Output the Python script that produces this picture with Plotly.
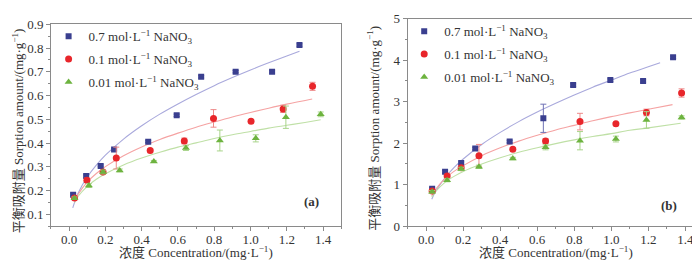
import plotly.graph_objects as go

# ---------------- data: panel (a) ----------------
a_x_blue = [0.022, 0.094, 0.174, 0.248, 0.436, 0.593, 0.728, 0.918, 1.119, 1.27]
a_y_blue = [0.182, 0.261, 0.304, 0.373, 0.406, 0.517, 0.679, 0.701, 0.700, 0.813]
a_e_blue = [0.004, 0.005, 0.004, 0.005, 0.004, 0.005, 0.005, 0.005, 0.005, 0.005]

a_x_red = [0.03, 0.098, 0.187, 0.26, 0.447, 0.635, 0.796, 1.003, 1.18, 1.342]
a_y_red = [0.169, 0.244, 0.278, 0.337, 0.369, 0.409, 0.504, 0.492, 0.544, 0.639]
a_e_red = [0.005, 0.008, 0.008, 0.046, 0.006, 0.012, 0.037, 0.006, 0.015, 0.017]

a_x_green = [0.03, 0.109, 0.187, 0.279, 0.467, 0.644, 0.831, 1.029, 1.195, 1.387]
a_y_green = [0.168, 0.221, 0.278, 0.285, 0.323, 0.379, 0.411, 0.420, 0.509, 0.521]
a_e_green = [0.005, 0.008, 0.008, 0.006, 0.004, 0.010, 0.044, 0.015, 0.047, 0.010]

a_fx_blue = [0.02, 0.05, 0.1, 0.15, 0.2, 0.3, 0.4, 0.5, 0.6, 0.7, 0.8, 0.9, 1.0, 1.1, 1.2, 1.27]
a_fy_blue = [0.127, 0.19, 0.257, 0.307, 0.349, 0.417, 0.473, 0.522, 0.565, 0.605, 0.642, 0.676, 0.708, 0.738, 0.767, 0.787]
a_fx_red = [0.03, 0.05, 0.1, 0.15, 0.2, 0.3, 0.4, 0.5, 0.6, 0.7, 0.8, 0.9, 1.0, 1.1, 1.2, 1.34]
a_fy_red = [0.155, 0.185, 0.236, 0.272, 0.301, 0.347, 0.384, 0.415, 0.442, 0.467, 0.489, 0.510, 0.529, 0.547, 0.564, 0.586]
a_fx_green = [0.03, 0.05, 0.1, 0.15, 0.2, 0.3, 0.4, 0.5, 0.6, 0.7, 0.8, 0.9, 1.0, 1.1, 1.2, 1.3, 1.387]
a_fy_green = [0.150, 0.176, 0.218, 0.248, 0.271, 0.308, 0.337, 0.361, 0.383, 0.401, 0.419, 0.435, 0.449, 0.463, 0.475, 0.487, 0.498]

# ---------------- data: panel (b) ----------------
b_x_blue = [0.032, 0.102, 0.189, 0.265, 0.451, 0.633, 0.794, 0.995, 1.172, 1.334]
b_y_blue = [0.90, 1.31, 1.52, 1.87, 2.04, 2.60, 3.40, 3.52, 3.50, 4.07]
b_e_blue = [0.03, 0.03, 0.03, 0.03, 0.03, 0.34, 0.03, 0.03, 0.03, 0.03]

b_x_red = [0.032, 0.113, 0.189, 0.285, 0.468, 0.645, 0.831, 1.025, 1.19, 1.38]
b_y_red = [0.85, 1.21, 1.41, 1.70, 1.855, 2.05, 2.52, 2.47, 2.74, 3.21]
b_e_red = [0.03, 0.04, 0.04, 0.27, 0.03, 0.06, 0.20, 0.03, 0.08, 0.10]

b_x_green = [0.032, 0.113, 0.189, 0.285, 0.468, 0.645, 0.831, 1.025, 1.19, 1.38]
b_y_green = [0.83, 1.11, 1.38, 1.43, 1.63, 1.90, 2.06, 2.10, 2.56, 2.62]
b_e_green = [0.03, 0.04, 0.04, 0.04, 0.03, 0.06, 0.22, 0.07, 0.20, 0.04]

b_fx_blue = [0.03, 0.05, 0.1, 0.15, 0.2, 0.3, 0.4, 0.5, 0.6, 0.7, 0.8, 0.9, 1.0, 1.1, 1.2, 1.264]
b_fy_blue = [0.65, 0.83, 1.16, 1.41, 1.62, 1.97, 2.26, 2.52, 2.75, 2.96, 3.16, 3.35, 3.52, 3.69, 3.84, 3.94]
b_fx_red = [0.03, 0.05, 0.1, 0.15, 0.2, 0.3, 0.4, 0.5, 0.6, 0.7, 0.8, 0.9, 1.0, 1.1, 1.2, 1.331]
b_fy_red = [0.73, 0.88, 1.14, 1.32, 1.46, 1.70, 1.89, 2.05, 2.19, 2.32, 2.43, 2.54, 2.64, 2.73, 2.82, 2.93]
b_fx_green = [0.03, 0.05, 0.1, 0.15, 0.2, 0.3, 0.4, 0.5, 0.6, 0.7, 0.8, 0.9, 1.0, 1.1, 1.2, 1.375]
b_fy_green = [0.70, 0.83, 1.05, 1.20, 1.32, 1.50, 1.65, 1.78, 1.89, 1.99, 2.08, 2.16, 2.23, 2.31, 2.37, 2.48]

series_names = ["0.7 mol·L<sup>−1</sup> NaNO<sub>3</sub>",
                "0.1 mol·L<sup>−1</sup> NaNO<sub>3</sub>",
                "0.01 mol·L<sup>−1</sup> NaNO<sub>3</sub>"]
x_ticks = [0.0, 0.2, 0.4, 0.6, 0.8, 1.0, 1.2, 1.4]
x_tick_text = ["0.0", "0.2", "0.4", "0.6", "0.8", "1.0", "1.2", "1.4"]
a_y_ticks = [0.1, 0.2, 0.3, 0.4, 0.5, 0.6, 0.7, 0.8, 0.9]
b_y_ticks = [0, 1, 2, 3, 4, 5]

# ---------------- styles ----------------
COL_PT = ["#3a3f8f", "#e8262b", "#6db33f"]
COL_LN = ["#a9a9dc", "#f5a3a3", "#bfe0a6"]
COL_EB = ["#6f73b5", "#ee8a8a", "#a8d48a"]
SYMS = ["square", "circle", "triangle-up"]
SIZES = [6, 7, 7]
FONT = "Liberation Serif, Times New Roman, Noto Sans CJK SC, serif"
TXT = "#333333"

fig = go.Figure()

panels = [
    dict(xa="x", ya="y", legend="legend",
         pts=[(a_x_blue, a_y_blue, a_e_blue), (a_x_red, a_y_red, a_e_red), (a_x_green, a_y_green, a_e_green)],
         fits=[(a_fx_blue, a_fy_blue), (a_fx_red, a_fy_red), (a_fx_green, a_fy_green)]),
    dict(xa="x2", ya="y2", legend="legend2",
         pts=[(b_x_blue, b_y_blue, b_e_blue), (b_x_red, b_y_red, b_e_red), (b_x_green, b_y_green, b_e_green)],
         fits=[(b_fx_blue, b_fy_blue), (b_fx_red, b_fy_red), (b_fx_green, b_fy_green)]),
]

for p in panels:
    for i, (fx, fy) in enumerate(p["fits"]):
        fig.add_trace(go.Scatter(x=fx, y=fy, mode="lines", line=dict(color=COL_LN[i], width=1.1, shape="spline"),
                                 xaxis=p["xa"], yaxis=p["ya"], showlegend=False, hoverinfo="skip"))
    for i, (x, y, e) in enumerate(p["pts"]):
        fig.add_trace(go.Scatter(
            x=x, y=y, mode="markers", name=series_names[i],
            marker=dict(symbol=SYMS[i], size=SIZES[i], color=COL_PT[i]),
            error_y=dict(type="data", array=e, visible=True, color=COL_EB[i], thickness=1, width=3),
            xaxis=p["xa"], yaxis=p["ya"], legend=p["legend"], legendgroup=p["legend"] + str(i)))

axis_common = dict(showline=True, linecolor="#8a8a8a", linewidth=1, mirror=True, ticks="outside",
                   ticklen=4, tickcolor="#8a8a8a", tickwidth=1, showgrid=False, zeroline=False,
                   tickfont=dict(family=FONT, size=13, color=TXT))

xtitle = "浓度 Concentration/(mg·L<sup>−1</sup>)"
ytitle = "平衡吸附量 Sorption amount/(mg·g<sup>−1</sup>)"
title_font = dict(family=FONT, size=13, color=TXT)

fig.update_layout(
    width=700, height=262, margin=dict(l=0, r=0, t=0, b=0),
    paper_bgcolor="white", plot_bgcolor="white", showlegend=True,
    xaxis=dict(domain=[0.0614, 0.476], range=[-0.1, 1.5], tickvals=x_ticks, ticktext=x_tick_text,
               minor=dict(ticks="outside", ticklen=2, dtick=0.1, tickcolor="#8a8a8a"),
               ticklabelstandoff=-3, anchor="y", **axis_common),
    yaxis=dict(domain=[0.145, 0.962], range=[0.05, 0.9], tickvals=a_y_ticks,
               minor=dict(ticks="outside", ticklen=2, dtick=0.05, tickcolor="#8a8a8a"),
               anchor="x", **axis_common),
    xaxis2=dict(domain=[0.571, 0.994], range=[-0.1, 1.5], tickvals=x_ticks, ticktext=x_tick_text,
                minor=dict(ticks="outside", ticklen=2, dtick=0.1, tickcolor="#8a8a8a"),
                ticklabelstandoff=-3, anchor="y2", **axis_common),
    yaxis2=dict(domain=[0.145, 0.985], range=[0, 5], tickvals=b_y_ticks,
                minor=dict(ticks="outside", ticklen=2, dtick=0.5, tickcolor="#8a8a8a"),
                anchor="x2", **axis_common),
    legend=dict(x=0.058, y=0.975, xanchor="left", yanchor="top", bgcolor="rgba(0,0,0,0)",
                font=dict(family=FONT, size=13, color=TXT), tracegroupgap=3,
                itemwidth=30),
    legend2=dict(x=0.566, y=0.995, xanchor="left", yanchor="top", bgcolor="rgba(0,0,0,0)",
                 font=dict(family=FONT, size=13, color=TXT), tracegroupgap=3,
                 itemwidth=30),
    annotations=[
        dict(text="<b>(a)</b>", x=0.93, y=0.076, xref="x domain", yref="y domain", showarrow=False,
             font=dict(family=FONT, size=13, color=TXT)),
        dict(text="<b>(b)</b>", x=0.915, y=0.056, xref="x2 domain", yref="y2 domain", showarrow=False,
             font=dict(family=FONT, size=13, color=TXT)),
        dict(text=xtitle, x=0.5, xref="x domain", y=0.0, yref="paper", yanchor="bottom",
             showarrow=False, font=title_font),
        dict(text=xtitle, x=0.5, xref="x2 domain", y=0.0, yref="paper", yanchor="bottom",
             showarrow=False, font=title_font),
        dict(text=ytitle, x=10 / 700, xref="paper", xanchor="center", y=0.47, yref="y domain",
             textangle=-90, showarrow=False, font=title_font),
        dict(text=ytitle, x=365 / 700, xref="paper", xanchor="center", y=0.47, yref="y2 domain",
             textangle=-90, showarrow=False, font=title_font),
    ],
)

fig.write_html("out.html")
